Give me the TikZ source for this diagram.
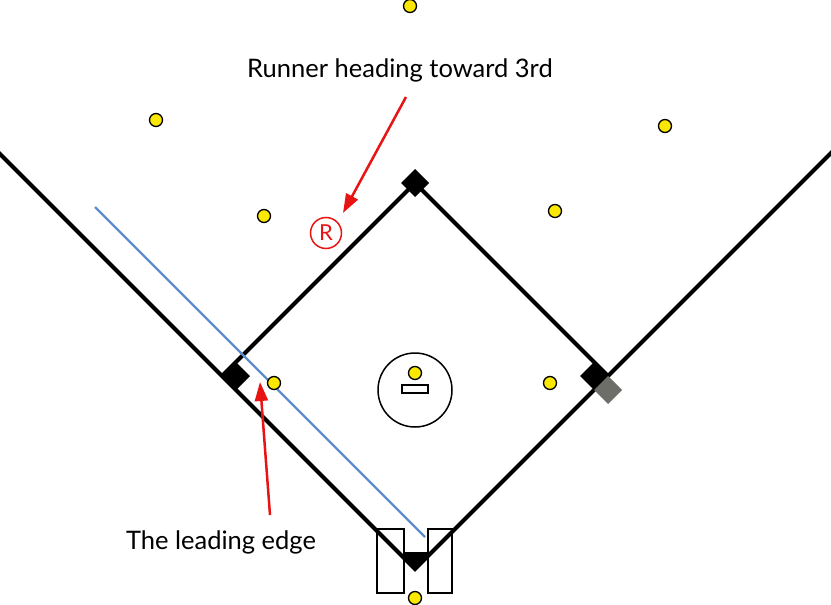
\documentclass[tikz,border=0pt]{standalone}
\usepackage{fontspec}
\setmainfont{Lato}
\usepackage{tikz}
\usetikzlibrary{arrows.meta}
\definecolor{fieldyellow}{RGB}{250,232,0}
\definecolor{edgeblue}{RGB}{95,140,205}
\definecolor{bagray}{RGB}{110,110,105}
\definecolor{callred}{RGB}{232,20,20}

\begin{document}
\begin{tikzpicture}[x=1pt,y=-1pt,
  chalk/.style={line width=4pt},
  fielder/.style={circle,draw=black,fill=fieldyellow,line width=1.3pt,minimum size=13pt,inner sep=0pt},
  callout/.style={draw=callred,line width=2.5pt,-{Triangle[length=19pt,width=13pt]}},
  caption/.style={font=\fontsize{25.5}{30}\selectfont}]
\useasboundingbox (0,0) rectangle (831,605);

% batter's boxes
\draw[line width=1.3pt] (377,529) rectangle (404,593);
\draw[line width=1.3pt] (428,529) rectangle (452,593);
% foul lines, base paths
\draw[chalk] (-5,149) -- (415,569) -- (836,148);
\draw[chalk] (222,376) -- (415,183) -- (608,376);
% bases
\fill (222,376) -- (236,362) -- (250,376) -- (236,390) -- cycle;
\fill (401,183) -- (415,169) -- (429,183) -- (415,197) -- cycle;
\fill (580,376) -- (594,362) -- (608,376) -- (594,390) -- cycle;
\fill[bagray] (594,390) -- (608,376) -- (622,390) -- (608,404) -- cycle;
\fill (403,552) -- (427,552) -- (427,558) -- (415,571) -- (403,558) -- cycle;
% mound
\draw[line width=1.5pt] (415,390) circle (37pt);
\draw[line width=1.5pt] (402,385) rectangle (428,393);
% leading edge
\draw[edgeblue,line width=2.2pt] (95,207) -- (425,537);

% fielders
\node[fielder] (cf) at (410,6) {};
\node[fielder] (lf) at (156,120) {};
\node[fielder] (rf) at (665,126) {};
\node[fielder] (ss) at (264,216) {};
\node[fielder] (sb) at (555,211) {};
\node[fielder] (tb) at (274,383) {};
\node[fielder] (fb) at (550,383) {};
\node[fielder] (p) at (415,373) {};
\node[fielder] (c) at (415,598) {};

% runner
\node[circle,draw=callred,line width=1.5pt,minimum size=31pt,inner sep=0pt,
  text=callred,font=\fontsize{22}{22}\selectfont] (runner) at (326,233) {R};

% labels and arrows
\node[caption] (runlabel) at (400,70) {Runner heading toward 3rd};
\node[caption] (edgelabel) at (221,542) {The leading edge};
\coordinate (runtail) at (406,97);
\coordinate (runtip) at (343,213);
\coordinate (edgetail) at (270,515);
\coordinate (edgetip) at (260,382);
\draw[callout] (runtail) -- (runtip);
\draw[callout] (edgetail) -- (edgetip);
\end{tikzpicture}
\end{document}
